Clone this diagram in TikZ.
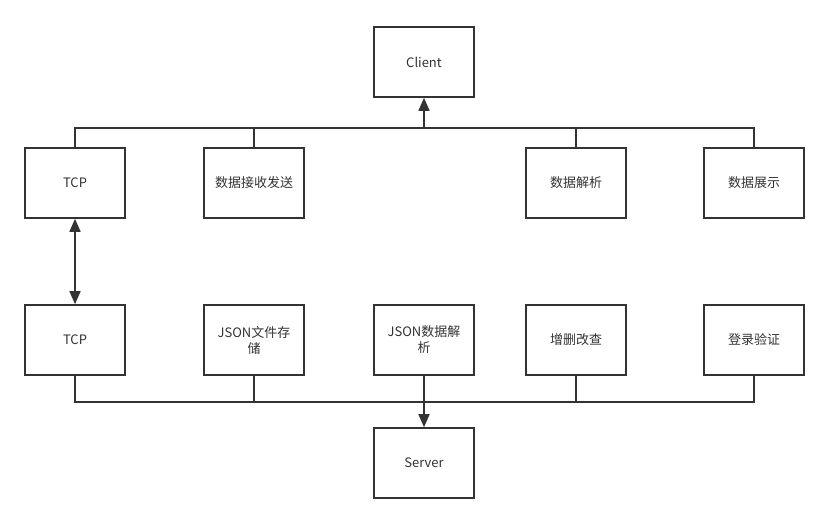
\documentclass[tikz,border=0pt]{standalone}
\usepackage{fontspec}
\setmainfont{Noto Sans CJK SC}
\usetikzlibrary{arrows.meta}
\definecolor{ln}{HTML}{333333}
\definecolor{tx}{HTML}{333333}
\tikzset{
  box/.style={draw=ln, line width=1.6pt, minimum width=100pt, minimum height=70pt, inner sep=0pt, align=center, text=tx, font=\fontsize{13}{16}\selectfont, fill=white},
  wire/.style={draw=ln, line width=1.6pt},
  tip/.tip={Triangle[width=11pt,length=13pt]},
  arr/.style={-tip}
}
\begin{document}
\begin{tikzpicture}[x=1pt,y=-1pt]
\useasboundingbox (0,0) rectangle (829,523);
\node[box] (client) at (424,62) {Client};
\node[box] (tcp1) at (75,183) {TCP};
\node[box] (recv) at (254,183) {数据接收发送};
\node[box] (parse1) at (576,183) {数据解析};
\node[box] (show) at (754,183) {数据展示};
\node[box] (tcp2) at (75,340) {TCP};
\node[box] (jfile) at (254,340) {JSON文件存\\储};
\node[box] (jparse) at (424,340) {JSON数据解\\析};
\node[box] (crud) at (576,340) {增删改查};
\node[box] (login) at (754,340) {登录验证};
\node[box] (server) at (424,463) {Server};
\coordinate (tb) at (424,128);
\coordinate (bb) at (424,402);
% top bus
\draw[wire] (tcp1.north) |- (tb) -| (show.north);
\draw[wire] (recv.north) -- (recv.north |- tb);
\draw[wire] (parse1.north) -- (parse1.north |- tb);
\draw[wire,arr] (tb) -- (client.south);
% bottom bus
\draw[wire] (tcp2.south) |- (bb) -| (login.south);
\draw[wire] (jfile.south) -- (jfile.south |- bb);
\draw[wire] (crud.south) -- (crud.south |- bb);
\draw[wire,arr] (jparse.south) -- (server.north);
% tcp link
\draw[wire,tip-tip] (tcp1.south) -- (tcp2.north);
\end{tikzpicture}
\end{document}
